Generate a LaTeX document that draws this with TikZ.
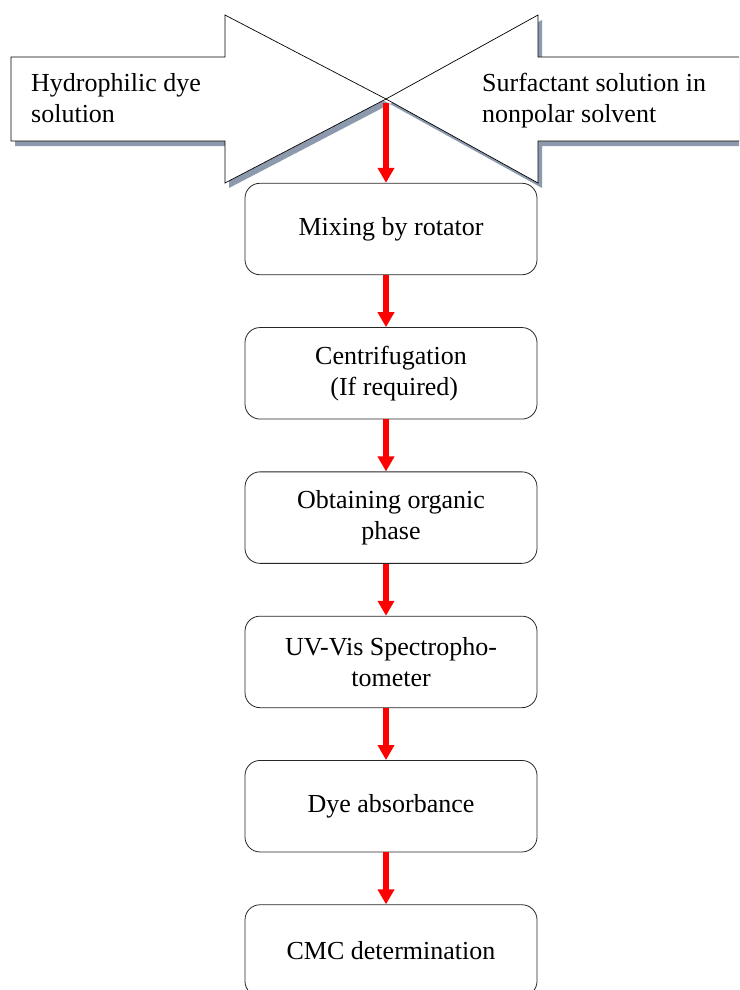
\documentclass[tikz,border=0pt]{standalone}
\usepackage{fontspec}
\setmainfont{Liberation Serif}
\usepackage{tikz}
\usetikzlibrary{positioning, arrows.meta}
\definecolor{shadowgray}{RGB}{141,153,173}
\definecolor{flowred}{RGB}{255,0,0}

\begin{document}
\begin{tikzpicture}[x=1pt, y=-1pt, node distance=52pt,
  procbox/.style={
    rectangle, rounded corners=15pt, draw=black!85, line width=0.8pt, align=center,
    minimum width=292pt, minimum height=91.5pt,
    font=\fontsize{26}{31}\selectfont
  },
  sidetext/.style={anchor=north west, inner sep=0pt, align=left,
    font=\fontsize{26}{31}\selectfont},
  flow/.style={-{Triangle[width=16pt, length=15pt]}, line width=5.5pt, draw=flowred},
  bigarrow/.style={fill=white, draw=black, line width=0.7pt}]
\clip (0,0) rectangle (739,990);
% the two input arrows, shadow first
\fill[shadowgray, shift={(4,5)}] (11,57) -- (225,57) -- (225,15) -- (386,99) -- (225,183) -- (225,141) -- (11,141) -- cycle;
\fill[shadowgray, shift={(4,5)}] (760,57) -- (538,57) -- (538,15) -- (386,99) -- (538,183) -- (538,141) -- (760,141) -- cycle;
\draw[bigarrow] (11,57) -- (225,57) -- (225,15) -- (386,99) -- (225,183) -- (225,141) -- (11,141) -- cycle;
\draw[bigarrow] (760,57) -- (538,57) -- (538,15) -- (386,99) -- (538,183) -- (538,141) -- (760,141) -- cycle;
\node[sidetext] (dye) at (31,73) {Hydrophilic dye\\solution};
\node[sidetext] (surf) at (482,73) {Surfactant solution in\\nonpolar solvent};
\coordinate (meet) at (386,99);
% process steps
\node[procbox] (mix) at (391,229) {Mixing by rotator};
\node[procbox, below=of mix] (centri) {Centrifugation\\\hspace*{0.25em}(If required)};
\node[procbox, below=of centri] (organic) {Obtaining organic\\phase};
\node[procbox, below=of organic] (uvvis) {UV-Vis Spectropho-\\tometer};
\node[procbox, below=of uvvis] (absorb) {Dye absorbance};
\node[procbox, below=of absorb] (cmc) {CMC determination};
\draw[flow] ([yshift=-4pt]meet) -- ([xshift=-5pt]mix.north);
\draw[flow] ([xshift=-5pt]mix.south) -- ([xshift=-5pt]centri.north);
\draw[flow] ([xshift=-5pt]centri.south) -- ([xshift=-5pt]organic.north);
\draw[flow] ([xshift=-5pt]organic.south) -- ([xshift=-5pt]uvvis.north);
\draw[flow] ([xshift=-5pt]uvvis.south) -- ([xshift=-5pt]absorb.north);
\draw[flow] ([xshift=-5pt]absorb.south) -- ([xshift=-5pt]cmc.north);
\end{tikzpicture}
\end{document}
